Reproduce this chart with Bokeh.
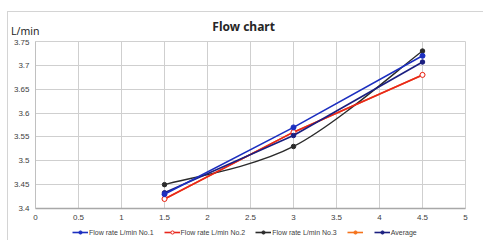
import numpy as np
from bokeh.plotting import figure
from bokeh.layouts import column
from bokeh.models import Range1d, FixedTicker, Legend, LegendItem, ColumnDataSource
from bokeh.core.properties import value
from bokeh.embed import file_html
from bokeh.resources import INLINE

# ---- data ----
x_pos = [1.5, 3.0, 4.5]
flow_no1 = [3.43, 3.57, 3.72]
flow_no2 = [3.42, 3.56, 3.68]
flow_no3 = [3.45, 3.53, 3.73]
flow_orange = [3.42, 3.56, 3.68]
flow_avg = [3.433, 3.553, 3.707]

series_labels = ["Flow rate L/min No.1", "Flow rate L/min No.2", "Flow rate L/min No.3", " ", "Average"]

x_ticks = [0, 0.5, 1, 1.5, 2, 2.5, 3, 3.5, 4, 4.5, 5]
x_tick_labels = ["0", "0.5", "1", "1.5", "2", "2.5", "3", "3.5", "4", "4.5", "5"]
y_ticks = [3.4, 3.45, 3.5, 3.55, 3.6, 3.65, 3.7, 3.75]
y_tick_labels = ["3.4", "3.45", "3.5", "3.55", "3.6", "3.65", "3.7", "3.75"]

title_text = "Flow chart"
unit_text = "L/min"

W = 475
BL, BR = 25, 18

c_no1 = "#1c2fc0"
c_no2 = "#e8261c"
c_no3 = "#2b2b2b"
c_orange = "#f5731c"
c_avg = "#1b1f80"

xr = Range1d(0, 5)


def bare(fig):
    fig.outline_line_color = None
    fig.background_fill_color = "white"
    fig.border_fill_color = "white"
    return fig


# ---- header: unit (as a y-axis label) + title ----
hdr = bare(figure(width=W, height=27, output_backend="svg", toolbar_location=None,
                  x_range=xr, y_range=Range1d(0, 1), x_axis_location=None,
                  min_border_left=BL, min_border_right=BR, min_border_top=0, min_border_bottom=0))
hdr.grid.visible = False
ya = hdr.yaxis[0]
ya.ticker = FixedTicker(ticks=[0.33])
ya.major_label_overrides = {0.33: unit_text}
ya.axis_line_color = None
ya.major_tick_line_color = None
ya.minor_tick_line_color = None
ya.major_tick_out = 0
ya.major_label_standoff = -4
ya.major_label_text_font = "Noto Sans"
ya.major_label_text_font_size = "10.5px"
ya.major_label_text_color = "#262626"
hdr.text(x=[2.42], y=[0.5], text=[title_text], text_align="center", text_baseline="middle",
         text_font=value("Noto Sans"), text_font_size="12px", text_font_style="bold",
         text_color="#262626")

# ---- main chart ----
p = bare(figure(width=W, height=185, output_backend="svg", toolbar_location=None,
                x_range=xr, y_range=Range1d(3.4, 3.75),
                min_border_left=BL, min_border_right=BR, min_border_top=2, min_border_bottom=16))
p.outline_line_color = "#d0d0d0"

grid_color = "#cfcfcf"
p.xgrid.ticker = FixedTicker(ticks=x_ticks)
p.ygrid.ticker = FixedTicker(ticks=y_ticks)
p.xgrid.grid_line_color = grid_color
p.ygrid.grid_line_color = grid_color

for ax, ticks, labels in ((p.xaxis[0], x_ticks, x_tick_labels), (p.yaxis[0], y_ticks, y_tick_labels)):
    ax.ticker = FixedTicker(ticks=ticks)
    ax.major_label_overrides = dict(zip(ticks, labels))
    ax.major_tick_line_color = None
    ax.minor_tick_line_color = None
    ax.major_tick_out = 0
    ax.major_tick_in = 0
    ax.major_label_text_font = "Liberation Sans"
    ax.major_label_text_font_size = "8px"
    ax.major_label_text_color = "#404040"
p.xaxis.major_label_standoff = 6
p.yaxis.major_label_standoff = 6

p.xaxis.axis_line_color = "#a8a8a8"
p.xaxis.axis_line_width = 1.5
p.yaxis.axis_line_color = "#c0c0c0"

# orange (underneath)
p.line(x_pos, flow_orange, line_color=c_orange, line_width=1.6)
p.scatter(x_pos, flow_orange, size=4.5, fill_color=c_orange, line_color=c_orange)

# No.3 smoothed line (Excel style bezier through the points)
P = np.column_stack([x_pos, flow_no3]).astype(float)
n = len(P)
x0, y0, x1, y1, cx0, cy0, cx1, cy1 = ([] for _ in range(8))
for i in range(n - 1):
    pa = P[max(i - 1, 0)]
    pb = P[i]
    pc = P[i + 1]
    pd = P[min(i + 2, n - 1)]
    c0 = pb + (pc - pa) / 6.0
    c1 = pc - (pd - pb) / 6.0
    x0.append(pb[0]); y0.append(pb[1]); x1.append(pc[0]); y1.append(pc[1])
    cx0.append(c0[0]); cy0.append(c0[1]); cx1.append(c1[0]); cy1.append(c1[1])
bz = ColumnDataSource(dict(x0=x0, y0=y0, x1=x1, y1=y1, cx0=cx0, cy0=cy0, cx1=cx1, cy1=cy1))
p.bezier(x0="x0", y0="y0", x1="x1", y1="y1", cx0="cx0", cy0="cy0", cx1="cx1", cy1="cy1",
         source=bz, line_color=c_no3, line_width=1.4)
p.scatter(x_pos, flow_no3, size=4.5, fill_color=c_no3, line_color=c_no3)

p.line(x_pos, flow_no2, line_color=c_no2, line_width=1.6)
p.scatter(x_pos, flow_no2, size=5, fill_color="white", line_color=c_no2, line_width=1)

p.line(x_pos, flow_avg, line_color=c_avg, line_width=1.6)
p.scatter(x_pos, flow_avg, size=4.5, fill_color=c_avg, line_color=c_avg)

p.line(x_pos, flow_no1, line_color=c_no1, line_width=1.6)
p.scatter(x_pos, flow_no1, size=5, fill_color=c_no1, line_color=c_no1)

# ---- legend strip (same series, view placed away from the data) ----
lg = bare(figure(width=W, height=16, output_backend="svg", toolbar_location=None,
                 x_range=Range1d(100, 101), y_range=Range1d(100, 101),
                 x_axis_location=None, y_axis_location=None,
                 min_border_left=BL, min_border_right=BR, min_border_top=0, min_border_bottom=0))
lg.grid.visible = False
specs = [
    (flow_no1, c_no1, c_no1, 5),
    (flow_no2, c_no2, "white", 5),
    (flow_no3, c_no3, c_no3, 4.5),
    (flow_orange, c_orange, c_orange, 4.5),
    (flow_avg, c_avg, c_avg, 4.5),
]
items = []
for label, (vals, col, fill, sz) in zip(series_labels, specs):
    rl = lg.line(x_pos, vals, line_color=col, line_width=1.6)
    rm = lg.scatter(x_pos, vals, size=sz, fill_color=fill, line_color=col, line_width=1)
    items.append(LegendItem(label=label, renderers=[rl, rm]))
legend = Legend(items=items, orientation="horizontal", location=(37, 4),
                label_text_font="Liberation Sans", label_text_font_size="7px",
                label_text_color="#404040", glyph_width=16, glyph_height=8,
                label_height=8, label_width=0, label_standoff=1, spacing=10,
                padding=0, margin=0, border_line_color=None, background_fill_alpha=0)
lg.add_layout(legend)

layout = column(hdr, p, lg, spacing=0,
                styles={"margin-left": "7px", "margin-top": "11px",
                        "border-top": "1px solid #d4d4d4", "border-left": "1px solid #d4d4d4"})

open("out.html", "w").write(file_html(layout, INLINE))
